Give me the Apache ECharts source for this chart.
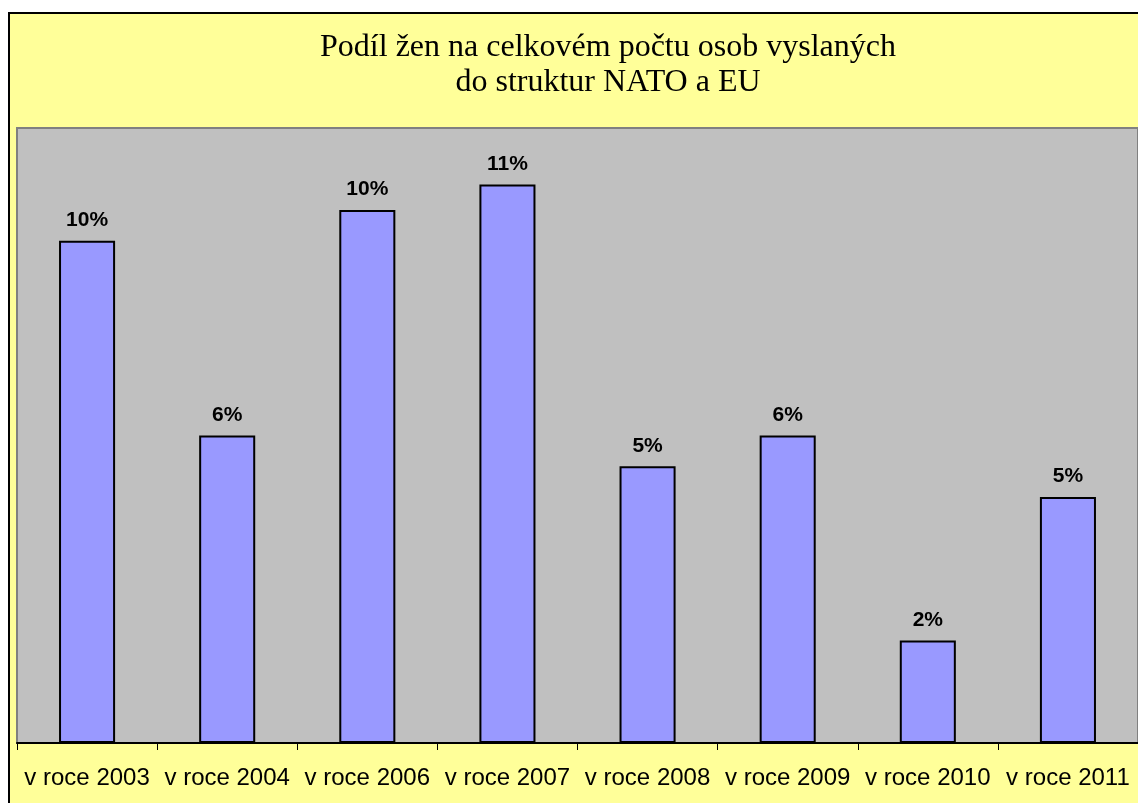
<!DOCTYPE html>
<html>
<head>
<meta charset="utf-8">
<title>Podíl žen</title>
<script src="https://cdn.jsdelivr.net/npm/echarts@6/dist/echarts.min.js"></script>
<style>
    html, body { margin: 0; padding: 0; background: #ffffff; }
    #chart { width: 1138px; height: 803px; }
</style>
</head>
<body>
<div id="chart"></div>
<script>
    // kategorie a hodnoty (v %)
    var categories = ['v roce 2003', 'v roce 2004', 'v roce 2006', 'v roce 2007', 'v roce 2008', 'v roce 2009', 'v roce 2010', 'v roce 2011'];
    var shares = [9.8, 6.0, 10.4, 10.9, 5.4, 6.0, 2.0, 4.8];
    var titleLines = ['Podíl žen na celkovém počtu osob vyslaných', 'do struktur NATO a EU'];

    var myChart = echarts.init(document.getElementById('chart'));
    var option = {
        backgroundColor: '#ffffff',
        animation: false,
        graphic: [
            {
                type: 'rect',
                z: -10,
                shape: { x: 9, y: 13, width: 1200, height: 850 },
                style: { fill: '#FFFF99', stroke: '#000000', lineWidth: 2 }
            }
        ],
        title: {
            text: titleLines.join('\n'),
            left: 603,
            top: 25,
            textAlign: 'center',
            textStyle: {
                fontFamily: 'Liberation Serif',
                fontWeight: 'normal',
                fontSize: 32,
                lineHeight: 35,
                color: '#000000'
            }
        },
        grid: {
            show: true,
            left: 17,
            top: 128,
            right: -3,
            bottom: 60,
            backgroundColor: '#C0C0C0',
            borderColor: '#808080',
            borderWidth: 2
        },
        xAxis: {
            type: 'category',
            data: categories,
            axisLine: { lineStyle: { color: '#000000', width: 2 } },
            axisTick: { show: true, length: 7, lineStyle: { color: '#000000', width: 1 } },
            axisLabel: {
                interval: 0,
                margin: 23,
                fontFamily: 'Liberation Sans',
                fontSize: 24,
                color: '#000000'
            }
        },
        yAxis: {
            type: 'value',
            min: 0,
            max: 12,
            show: false,
            splitLine: { show: false }
        },
        series: [
            {
                type: 'bar',
                data: shares,
                barWidth: '40%',
                itemStyle: { color: '#9999FF', borderColor: '#000000', borderWidth: 2 },
                label: {
                    show: true,
                    position: 'top',
                    distance: 10,
                    fontFamily: 'Liberation Sans',
                    fontWeight: 'bold',
                    fontSize: 21,
                    color: '#000000',
                    formatter: function (p) {
                        return Math.round(p.value) + '%';
                    }
                }
            }
        ]
    };
    myChart.setOption(option);
</script>
</body>
</html>
